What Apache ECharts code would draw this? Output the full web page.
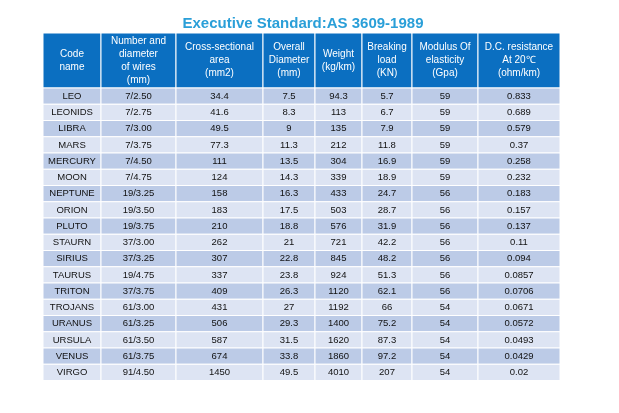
<!DOCTYPE html>
<html>
<head>
<meta charset="utf-8">
<script src="https://cdn.jsdelivr.net/npm/echarts@6/dist/echarts.min.js"></script>
<style>html,body{margin:0;padding:0;background:#fff}#chart{width:619px;height:413px}</style>
</head>
<body>
<div id="chart"></div>
<script>
const headers = ['Code\nname', 'Number and\ndiameter\nof wires\n(mm)', 'Cross-sectional\narea\n(mm2)', 'Overall\nDiameter\n(mm)', 'Weight\n(kg/km)', 'Breaking\nload\n(KN)', 'Modulus Of\nelasticity\n(Gpa)', 'D.C. resistance\nAt 20℃\n(ohm/km)'];
const codeNames = ['LEO','LEONIDS','LIBRA','MARS','MERCURY','MOON','NEPTUNE','ORION','PLUTO','STAURN','SIRIUS','TAURUS','TRITON','TROJANS','URANUS','URSULA','VENUS','VIRGO'];
const wires = ['7/2.50','7/2.75','7/3.00','7/3.75','7/4.50','7/4.75','19/3.25','19/3.50','19/3.75','37/3.00','37/3.25','19/4.75','37/3.75','61/3.00','61/3.25','61/3.50','61/3.75','91/4.50'];
const area = ['34.4','41.6','49.5','77.3','111','124','158','183','210','262','307','337','409','431','506','587','674','1450'];
const diameter = ['7.5','8.3','9','11.3','13.5','14.3','16.3','17.5','18.8','21','22.8','23.8','26.3','27','29.3','31.5','33.8','49.5'];
const weight = ['94.3','113','135','212','304','339','433','503','576','721','845','924','1120','1192','1400','1620','1860','4010'];
const breaking = ['5.7','6.7','7.9','11.8','16.9','18.9','24.7','28.7','31.9','42.2','48.2','51.3','62.1','66','75.2','87.3','97.2','207'];
const modulus = ['59','59','59','59','59','59','56','56','56','56','56','56','56','54','54','54','54','54'];
const resistance = ['0.833','0.689','0.579','0.37','0.258','0.232','0.183','0.157','0.137','0.11','0.094','0.0857','0.0706','0.0671','0.0572','0.0493','0.0429','0.02'];

const columns = [codeNames, wires, area, diameter, weight, breaking, modulus, resistance];
const colEdges = [43, 101, 176, 263, 315, 362, 412, 478, 560];
const headTop = 33, headBottom = 88, rowH = 16.25;

let chart = echarts.init(document.getElementById('chart'));
let elements = [];
for (let c = 0; c < headers.length; c++) {
	let x = colEdges[c], w = colEdges[c + 1] - colEdges[c];
	elements.push({
		type: 'rect',
		shape: {x: x, y: headTop, width: w, height: headBottom - headTop},
		style: {fill: '#0b6fc1', stroke: '#ffffff', lineWidth: 1}
	});
	elements.push({
		type: 'text',
		x: x + w / 2, y: (headTop + headBottom) / 2,
		style: {text: headers[c], fill: '#ffffff', font: '10px "Liberation Sans", Arial', align: 'center', verticalAlign: 'middle', lineHeight: 13}
	});
	for (let r = 0; r < codeNames.length; r++) {
		let y = headBottom + r * rowH;
		elements.push({
			type: 'rect',
			shape: {x: x, y: y, width: w, height: rowH},
			style: {fill: r % 2 === 0 ? '#bccbe7' : '#dde4f3', stroke: '#ffffff', lineWidth: 1}
		});
		elements.push({
			type: 'text',
			x: x + w / 2, y: y + rowH / 2,
			style: {text: columns[c][r], fill: '#111111', font: '9.5px "Liberation Sans", Arial', align: 'center', verticalAlign: 'middle'}
		});
	}
}
chart.setOption({
	title: {
		text: 'Executive Standard:AS 3609-1989',
		left: 298, top: 11, textAlign: 'center',
		textStyle: {color: '#2a9fd8', fontSize: 15, fontWeight: 'bold', fontFamily: '"Liberation Sans", Arial'}
	},
	graphic: elements
});
</script>
</body>
</html>
